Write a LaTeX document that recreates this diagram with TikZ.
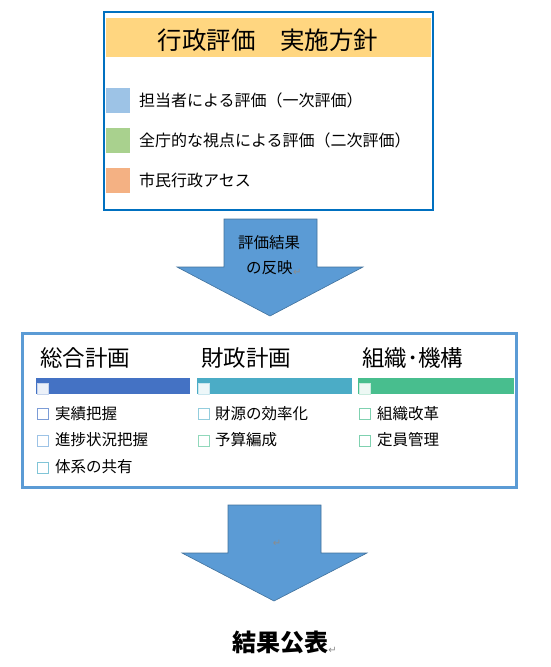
\documentclass[tikz,border=0pt]{standalone}
\usepackage{fontspec}
\setmainfont{Noto Sans CJK JP}
\newfontfamily\retfont{DejaVu Sans}
\definecolor{policyblue}{RGB}{0,112,192}
\definecolor{bandorange}{RGB}{255,214,128}
\definecolor{firstblue}{RGB}{157,195,230}
\definecolor{secondgreen}{RGB}{169,209,142}
\definecolor{citizenorange}{RGB}{244,177,131}
\definecolor{arrowblue}{RGB}{91,155,213}
\definecolor{arrowedge}{RGB}{65,113,156}
\definecolor{planblue}{RGB}{68,114,196}
\definecolor{financeteal}{RGB}{75,172,198}
\definecolor{orggreen}{RGB}{72,190,142}
\begin{document}
\begin{tikzpicture}[x=1pt, y=-1pt,
    legendtext/.style={anchor=west, inner sep=0pt, font=\fontsize{16}{19}\selectfont},
    headtext/.style={anchor=west, inner sep=0pt, font=\fontsize{22.5}{26}\selectfont},
    itemtext/.style={anchor=west, inner sep=0pt, font=\fontsize{15.5}{18}\selectfont},
    arrowtext/.style={inner sep=0pt, font=\fontsize{15.5}{18}\selectfont},
    retmark/.style={inner sep=0pt, text=black!45, font=\retfont\fontsize{10}{10}\selectfont},
    blockarrow/.style={fill=arrowblue, draw=arrowedge, line width=0.6pt},
    checkbox/.style={fill=white, line width=0.8pt}]
    \useasboundingbox (0,0) rectangle (551,667);

    \fill[white] (104,12) rectangle (433,210);
    \fill[bandorange] (106,18) rectangle (431,57);
    \node[inner sep=0pt, font=\fontsize{24.5}{28}\selectfont] (policy) at (268,40) {行政評価　実施方針};

    \fill[firstblue] (106,88) rectangle (130,113);
    \fill[secondgreen] (106,128) rectangle (130,153);
    \fill[citizenorange] (106,168) rectangle (130,193);
    \node[legendtext] (firsteval) at (139,100) {担当者による評価（一次評価）};
    \node[legendtext] (secondeval) at (139,140) {全庁的な視点による評価（二次評価）};
    \node[legendtext] (citizen) at (139,180) {市民行政アセス};
    \draw[policyblue, line width=2pt] (104,12) rectangle (433,210);

    \filldraw[blockarrow] (224,219) -- (317,219) -- (317,267) -- (363,267)
        -- (270,316) -- (177,267) -- (224,267) -- cycle;
    \node[arrowtext] (reflect1) at (269,243) {評価結果};
    \node[arrowtext, anchor=west] (reflect2) at (246,268) {の反映};
    \node[retmark, anchor=south west] (ret1) at (reflect2.south east) {↵};

    \fill[white] (22,333) rectangle (516,487);
    \node[headtext] (general) at (40,358) {総合計画};
    \node[headtext] (finance) at (201,358) {財政計画};
    \node[headtext] (organize) at (362,358) {組織･機構};

    \fill[planblue] (36,378) rectangle (190,394);
    \fill[financeteal] (197,378) rectangle (352,394);
    \fill[orggreen] (358,378) rectangle (514,394);
    \filldraw[fill=planblue!10, draw=planblue!30] (37,383) rectangle (48,394);
    \filldraw[fill=financeteal!10, draw=financeteal!30] (198,383) rectangle (209,394);
    \filldraw[fill=orggreen!10, draw=orggreen!30] (359,383) rectangle (370,394);

    \draw[checkbox, draw=planblue!70] (37,408) rectangle (48,419);
    \draw[checkbox, draw=firstblue] (37,435) rectangle (48,446);
    \draw[checkbox, draw=financeteal!70] (37,462) rectangle (48,473);
    \node[itemtext] (results) at (55,414) {実績把握};
    \node[itemtext] (progress) at (55,440) {進捗状況把握};
    \node[itemtext] (sharing) at (55,467) {体系の共有};

    \draw[checkbox, draw=financeteal!60] (198,408) rectangle (209,419);
    \draw[checkbox, draw=orggreen!60] (198,435) rectangle (209,446);
    \node[itemtext] (efficiency) at (215,414) {財源の効率化};
    \node[itemtext] (budget) at (215,440) {予算編成};

    \draw[checkbox, draw=orggreen!70] (359,408) rectangle (370,419);
    \draw[checkbox, draw=orggreen!70] (359,435) rectangle (370,446);
    \node[itemtext] (reform) at (377,414) {組織改革};
    \node[itemtext] (staffing) at (377,440) {定員管理};
    \draw[arrowblue, line width=3pt] (22,333) rectangle (516,487);

    \filldraw[blockarrow] (228,505) -- (321,505) -- (321,553) -- (367,553)
        -- (274,601) -- (182,553) -- (228,553) -- cycle;
    \node[retmark] (ret2) at (277,543) {↵};

    \node[inner sep=0pt, font=\fontsize{24}{28}\selectfont\bfseries] (publish) at (280,642) {結果公表};
    \node[retmark, anchor=south west] (ret3) at (publish.south east) {↵};
\end{tikzpicture}
\end{document}
